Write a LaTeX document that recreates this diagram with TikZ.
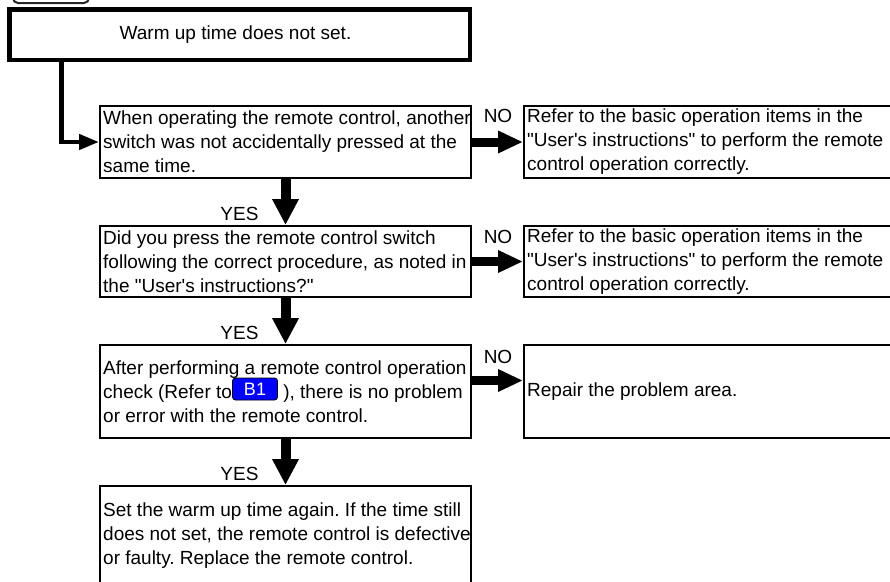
\documentclass[tikz,border=0pt]{standalone}
\usepackage{fontspec}
\setmainfont{Liberation Sans}
\usetikzlibrary{arrows.meta,calc}
\definecolor{badgeblue}{RGB}{0,0,255}
\newcommand{\dq}{\textquotedbl}
\newcommand{\sq}{\textquotesingle}
\begin{document}
\frenchspacing
\begin{tikzpicture}[x=1pt,y=-1pt,
  every node/.style={font=\fontsize{19}{24}\selectfont},
  frame/.style={draw, line width=2pt, rectangle, inner sep=0pt, anchor=north west},
  txt/.style={align=left, inner sep=0pt, anchor=west},
  lbl/.style={inner sep=0pt, anchor=base},
  downarrow/.style={line width=10pt, -{Triangle[length=26pt,width=25pt]}},
  noarrow/.style={line width=9pt, -{Triangle[length=25pt,width=21pt]}},
  entry/.style={line width=4.5pt, -{Triangle[length=20pt,width=15pt]}}
]
\clip (0,0) rectangle (890,581);
\fill[white] (0,0) rectangle (890,581);

% cut-off tab at the top
\node[draw=black!85, line width=2pt, rounded corners=5pt, minimum width=76pt,
      minimum height=30pt, anchor=south west, inner sep=0pt] (tab) at (12,4) {};

% title
\node[frame, line width=4.5pt, minimum width=460.5pt, minimum height=50.5pt] (title) at (7,7) {};
\node[inner sep=0pt] (ttext) at ([xshift=-4pt]title.center) {Warm up time does not set.};

% left column
\node[frame, minimum width=371pt, minimum height=72pt] (b1) at (99,105) {};
\node[frame, minimum width=371pt, minimum height=71pt] (b2) at (99,225) {};
\node[frame, minimum width=371pt, minimum height=93pt] (b3) at (99,344) {};
\node[frame, minimum width=371pt, minimum height=110pt] (b4) at (99,485) {};

% right column
\node[frame, minimum width=400pt, minimum height=72pt] (r1) at (523,105) {};
\node[frame, minimum width=400pt, minimum height=71pt] (r2) at (523,225) {};
\node[frame, minimum width=400pt, minimum height=93pt] (r3) at (523,344) {};

% texts
\node[txt] (t1) at ([xshift=4pt]b1.west) {When operating the remote control, another\\switch was not accidentally pressed at the\\same time.};
\node[txt] (t2) at ([xshift=4pt]b2.west) {Did you press the remote control switch\\following the correct procedure, as noted in\\the \dq User\sq s instructions?\dq};
\node[txt] (t3) at ([xshift=4pt]b3.west) {After performing a remote control operation\\check (Refer to\hspace{46pt} ), there is no problem\\or error with the remote control.};
\node[txt] (t4) at ([xshift=4pt,yshift=-18pt]b4.north west) [anchor=north west] {Set the warm up time again. If the time still\\does not set, the remote control is defective\\or faulty. Replace the remote control.};
\node[txt] (s1) at ([xshift=4pt]r1.west) {Refer to the basic operation items in the\\\dq User\sq s instructions\dq\ to perform the remote\\control operation correctly.};
\node[txt] (s2) at ([xshift=4pt]r2.west) {Refer to the basic operation items in the\\\dq User\sq s instructions\dq\ to perform the remote\\control operation correctly.};
\node[txt] (s3) at ([xshift=4pt]r3.west) {Repair the problem area.};

% B1 badge
\node[draw=black, line width=0.8pt, fill=badgeblue, rounded corners=3pt, text=white,
      minimum width=45pt, minimum height=22pt, inner sep=0pt,
      font=\fontsize{18}{20}\selectfont] (badge) at ([xshift=156pt,yshift=-45pt]b3.north west) {B1};

% connectors
\draw[entry] ([xshift=54.5pt]title.south west) |- (b1.west);
\draw[downarrow] (b1.south) -- (b2.north);
\draw[downarrow] (b2.south) -- (b3.north);
\draw[downarrow] (b3.south) -- (b4.north);
\draw[noarrow] (b1.east) -- (r1.west);
\draw[noarrow] (b2.east) -- (r2.west);
\draw[noarrow] ([yshift=11pt]b3.east) -- ([yshift=11pt]r3.west);

% labels
\node[lbl] (no1) at ([xshift=26pt,yshift=-17pt]b1.north east) {NO};
\node[lbl] (no2) at ([xshift=26pt,yshift=-18pt]b2.north east) {NO};
\node[lbl] (no3) at ([xshift=26pt,yshift=-19pt]b3.north east) {NO};
\node[lbl] (yes1) at ([xshift=-46pt,yshift=5pt]b2.north) {YES};
\node[lbl] (yes2) at ([xshift=-46pt,yshift=5pt]b3.north) {YES};
\node[lbl] (yes3) at ([xshift=-46pt,yshift=5pt]b4.north) {YES};
\end{tikzpicture}
\end{document}
